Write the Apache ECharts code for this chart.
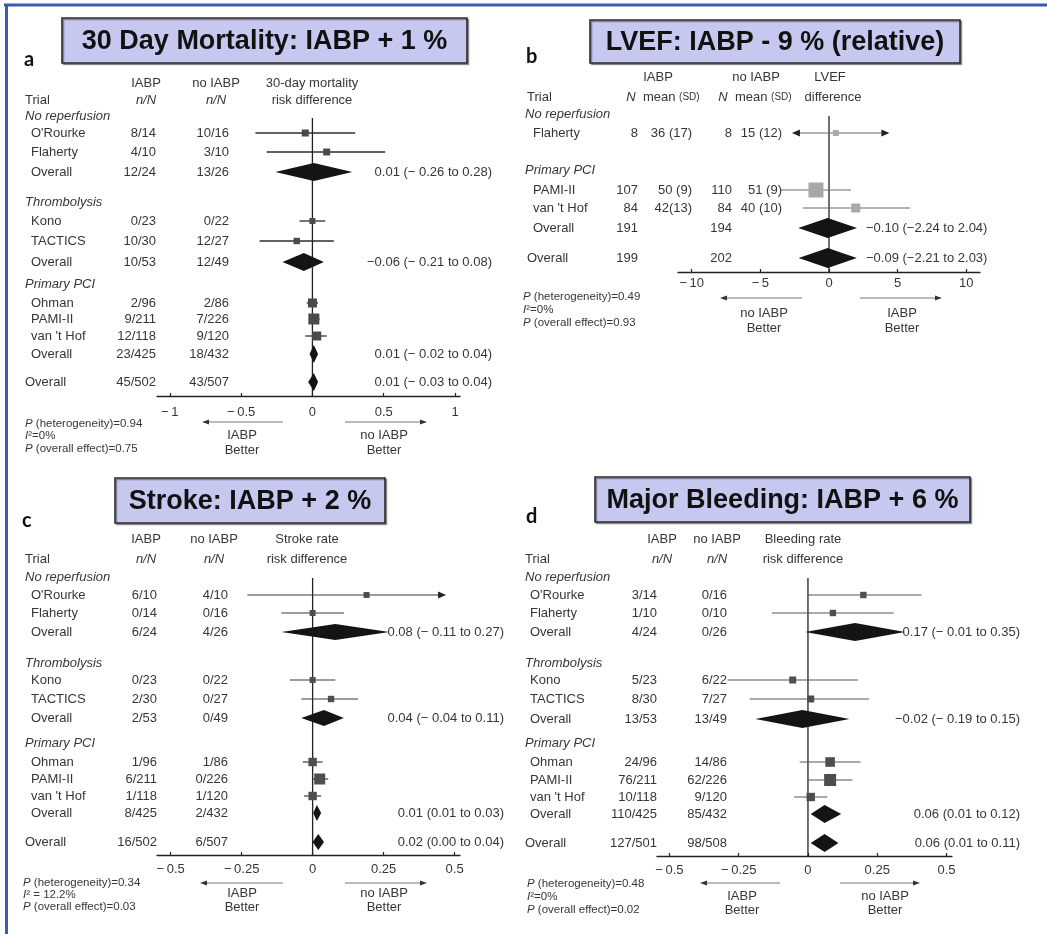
<!DOCTYPE html>
<html><head><meta charset="utf-8">
<script src="https://cdn.jsdelivr.net/npm/echarts@6/dist/echarts.min.js"></script>
<style>html,body{margin:0;padding:0;background:#fff}#c{width:1047px;height:934px}</style>
</head><body><div id="c"></div>
<script>
// ================= DATA =================
// Panel a: 30-day mortality, risk difference
const aTitle = "30 Day Mortality: IABP + 1 %";
const aHeader1 = ["IABP", "no IABP", "30-day mortality"];
const aHeader2 = ["Trial", "n/N", "n/N", "risk difference"];
const aRows  = ["No reperfusion","O'Rourke","Flaherty","Overall","Thrombolysis","Kono","TACTICS","Overall","Primary PCI","Ohman","PAMI-II","van 't Hof","Overall","Overall"];
const aKinds = ["group","trial","trial","sub","group","trial","trial","sub","group","trial","trial","trial","sub","total"];
const aIabp   = ["","8/14","4/10","12/24","","0/23","10/30","10/53","","2/96","9/211","12/118","23/425","45/502"];
const aNoIabp = ["","10/16","3/10","13/26","","0/22","12/27","12/49","","2/86","7/226","9/120","18/432","43/507"];
const aEst = [null,-0.05,0.10,0.01,null,0.00,-0.11,-0.06,null,0.00,0.01,0.03,0.01,0.01];
const aLo  = [null,-0.40,-0.32,-0.26,null,-0.09,-0.37,-0.21,null,-0.04,-0.02,-0.05,-0.02,-0.03];
const aHi  = [null,0.30,0.51,0.28,null,0.09,0.15,0.08,null,0.04,0.05,0.10,0.04,0.04];
const aWeight = [null,15,15,null,null,10,12,null,null,25,35,25,null,null];
const aEstText = ["","","","0.01 (− 0.26 to 0.28)","","","","−0.06 (− 0.21 to 0.08)","","","","","0.01 (− 0.02 to 0.04)","0.01 (− 0.03 to 0.04)"];
const aTicks = [-1,-0.5,0,0.5,1];
const aStats = ["{i|P} (heterogeneity)=0.94","{i|I}²=0%","{i|P} (overall effect)=0.75"];
const aBetter = [["IABP","Better"],["no IABP","Better"]];

// Panel b: LVEF, mean difference
const bTitle = "LVEF: IABP - 9 % (relative)";
const bHeader1 = ["IABP", "no IABP", "LVEF"];
const bHeader2 = ["Trial", "{i|N}  mean {s|(SD)}", "{i|N}  mean {s|(SD)}", "difference"];
const bRows  = ["No reperfusion","Flaherty","Primary PCI","PAMI-II","van 't Hof","Overall","Overall"];
const bKinds = ["group","trial","group","trial","trial","sub","total"];
const bIabpN    = ["","8","","107","84","191","199"];
const bIabpMean = ["","36 (17)","","50 (9)","42(13)","",""];
const bNoN      = ["","8","","110","84","194","202"];
const bNoMean   = ["","15 (12)","","51 (9)","40 (10)","",""];
const bEst = [null,0.5,null,-0.95,1.95,-0.10,-0.09];
const bLo  = [null,-2.7,null,-3.5,-1.9,-2.24,-2.21];
const bHi  = [null,4.4,null,1.6,5.9,2.04,2.03];
const bWeight = [null,10,null,55,25,null,null];
const bArrowL = [false,true,false,false,false,false,false];
const bArrowR = [false,true,false,false,false,false,false];
const bEstText = ["","","","","","−0.10 (−2.24 to 2.04)","−0.09 (−2.21 to 2.03)"];
const bTicks = [-10,-5,0,5,10];
const bStats = ["{i|P} (heterogeneity)=0.49","{i|I}²=0%","{i|P} (overall effect)=0.93"];
const bBetter = [["no IABP","Better"],["IABP","Better"]];

// Panel c: stroke rate, risk difference
const cTitle = "Stroke: IABP + 2 %";
const cHeader1 = ["IABP", "no IABP", "Stroke rate"];
const cHeader2 = ["Trial", "n/N", "n/N", "risk difference"];
const cRows  = aRows.slice();
const cKinds = aKinds.slice();
const cIabp   = ["","6/10","0/14","6/24","","0/23","2/30","2/53","","1/96","6/211","1/118","8/425","16/502"];
const cNoIabp = ["","4/10","0/16","4/26","","0/22","0/27","0/49","","1/86","0/226","1/120","2/432","6/507"];
const cEst = [null,0.19,0.00,0.08,null,0.00,0.065,0.04,null,0.00,0.025,0.00,0.015,0.02];
const cLo  = [null,-0.23,-0.11,-0.11,null,-0.08,-0.04,-0.04,null,-0.035,0.00,-0.03,0.002,0.00];
const cHi  = [null,0.47,0.11,0.27,null,0.08,0.16,0.11,null,0.035,0.055,0.03,0.03,0.04];
const cWeight = [null,10,10,null,null,10,12,null,null,22,35,22,null,null];
const cArrowR = [false,true,false,false,false,false,false,false,false,false,false,false,false,false];
const cEstText = ["","","","0.08 (− 0.11 to 0.27)","","","","0.04 (− 0.04 to 0.11)","","","","","0.01 (0.01 to 0.03)","0.02 (0.00 to 0.04)"];
const cTicks = [-0.5,-0.25,0,0.25,0.5];
const cStats = ["{i|P} (heterogeneity)=0.34","{i|I}² = 12.2%","{i|P} (overall effect)=0.03"];
const cBetter = [["IABP","Better"],["no IABP","Better"]];

// Panel d: bleeding rate, risk difference
const dTitle = "Major Bleeding: IABP + 6 %";
const dHeader1 = ["IABP", "no IABP", "Bleeding rate"];
const dHeader2 = ["Trial", "n/N", "n/N", "risk difference"];
const dRows  = aRows.slice();
const dKinds = aKinds.slice();
const dIabp   = ["","3/14","1/10","4/24","","5/23","8/30","13/53","","24/96","76/211","10/118","110/425","127/501"];
const dNoIabp = ["","0/16","0/10","0/26","","6/22","7/27","13/49","","14/86","62/226","9/120","85/432","98/508"];
const dEst = [null,0.20,0.09,0.17,null,-0.055,0.01,-0.02,null,0.08,0.08,0.01,0.06,0.06];
const dLo  = [null,0.00,-0.13,-0.01,null,-0.29,-0.21,-0.19,null,-0.03,0.00,-0.05,0.01,0.01];
const dHi  = [null,0.41,0.31,0.35,null,0.18,0.22,0.15,null,0.19,0.16,0.07,0.12,0.11];
const dWeight = [null,12,12,null,null,15,15,null,null,28,40,22,null,null];
const dEstText = ["","","","0.17 (− 0.01 to 0.35)","","","","−0.02 (− 0.19 to 0.15)","","","","","0.06 (0.01 to 0.12)","0.06 (0.01 to 0.11)"];
const dTicks = [-0.5,-0.25,0,0.25,0.5];
const dStats = ["{i|P} (heterogeneity)=0.48","{i|I}²=0%","{i|P} (overall effect)=0.02"];
const dBetter = [["IABP","Better"],["no IABP","Better"]];

// ================= LAYOUT (positions / styles) =================
const FF = '"Liberation Sans", Arial, Helvetica, sans-serif';
const TXT = '#363636';
const FS = 13;

const LAYOUT = {
  a: { rowY:[116,133,152,172,202,221,241,262,284,303,319,336,354,382], hdrY:[83,100],
       nameX:{group:25,trial:31,sub:31,total:25}, colRight:[156,229], hdrX:[146,216,312],
       estX:492, estAlign:'right', statsX:25, statsY:[424,436,449],
       arrowY:422, arrowL:[283,202], arrowR:[345,427], lblX:[242,384], lblY:[435,450],
       plot:{left:157,width:303,top:70,axisY:396,min:-1.09,max:1.035,zeroTop:118,labelMargin:10},
       diamondH:9, title:{x:62,y:18,w:405,h:45}, letter:{x:24,y:60,t:'a'},
       ci:{color:'#2e2e2e',width:1.3}, sq:'#4a4a4a' },
  b: { rowY:[114,133,170,190,208,228,258], hdrY:[77,97],
       nameX:{group:525,trial:533,sub:533,total:527},
       hdrX:[658,756,830], hdr2X:[663,755,833],
       nRight:[638,732], meanRight:[692,782],
       estX:866, estAlign:'left', statsX:523, statsY:[297,310,323],
       arrowY:298, arrowL:[802,720], arrowR:[860,942], lblX:[764,902], lblY:[313,328],
       plot:{left:678,width:302,top:60,axisY:272,min:-11,max:11,zeroTop:116,labelMargin:5},
       diamondH:10, title:{x:590,y:20,w:370,h:43}, letter:{x:526,y:57,t:'b'},
       ci:{color:'#6a6a6a',width:1.2}, sq:'#a8a8a8' },
  c: { rowY:[577,595,613,632,663,680,699,718,743,762,779,796,813,842], hdrY:[539,559],
       nameX:{group:25,trial:31,sub:31,total:25}, colRight:[157,228], hdrX:[146,214,307],
       estX:504, estAlign:'right', statsX:23, statsY:[883,895,907],
       arrowY:883, arrowL:[283,200], arrowR:[345,427], lblX:[242,384], lblY:[893,907],
       plot:{left:157,width:303,top:530,axisY:855,min:-0.548,max:0.519,zeroTop:578,labelMargin:8},
       diamondH:8, title:{x:115,y:478,w:270,h:45}, letter:{x:22,y:521,t:'c'},
       ci:{color:'#3a3a3a',width:1.2}, sq:'#4e4e4e' },
  d: { rowY:[577,595,613,632,663,680,699,719,743,762,780,797,814,843], hdrY:[539,559],
       nameX:{group:525,trial:530,sub:530,total:525}, colRight:[657,727], hdrX:[662,717,803],
       estX:1020, estAlign:'right', statsX:527, statsY:[884,897,910],
       arrowY:883, arrowL:[780,700], arrowR:[840,920], lblX:[742,885], lblY:[896,910],
       plot:{left:657,width:295,top:530,axisY:856,min:-0.545,max:0.52,zeroTop:578,labelMargin:8},
       diamondH:9, title:{x:595,y:477,w:375,h:45}, letter:{x:526,y:517,t:'d'},
       ci:{color:'#555555',width:1.1}, sq:'#4e4e4e' }
};

const panels = [
  {id:'a', title:aTitle, h1:aHeader1, h2:aHeader2, rows:aRows, kinds:aKinds, cols:[aIabp,aNoIabp], est:aEst, lo:aLo, hi:aHi, w:aWeight, estText:aEstText, ticks:aTicks, stats:aStats, better:aBetter, arrowL:[], arrowR:[]},
  {id:'b', title:bTitle, h1:bHeader1, h2:bHeader2, rows:bRows, kinds:bKinds, est:bEst, lo:bLo, hi:bHi, w:bWeight, estText:bEstText, ticks:bTicks, stats:bStats, better:bBetter, arrowL:bArrowL, arrowR:bArrowR},
  {id:'c', title:cTitle, h1:cHeader1, h2:cHeader2, rows:cRows, kinds:cKinds, cols:[cIabp,cNoIabp], est:cEst, lo:cLo, hi:cHi, w:cWeight, estText:cEstText, ticks:cTicks, stats:cStats, better:cBetter, arrowL:[], arrowR:cArrowR},
  {id:'d', title:dTitle, h1:dHeader1, h2:dHeader2, rows:dRows, kinds:dKinds, cols:[dIabp,dNoIabp], est:dEst, lo:dLo, hi:dHi, w:dWeight, estText:dEstText, ticks:dTicks, stats:dStats, better:dBetter, arrowL:[], arrowR:[]}
];

// ================= BUILD =================
const RICH = {
  i:{fontStyle:'italic', fontSize:FS, fontFamily:FF, fill:TXT},
  s:{fontSize:10, fontFamily:FF, fill:TXT}
};
const RICH_SM = {
  i:{fontStyle:'italic', fontSize:11.5, fontFamily:FF, fill:TXT}
};
function T(x, y, text, o) {
  o = o || {};
  return { type:'text', x:x, y:y, silent:true, z:10,
    style:{ text:text, fill:o.fill||TXT, fontSize:o.size||FS, fontFamily:o.ff||FF,
      fontStyle:o.italic?'italic':'normal', fontWeight:o.bold?'bold':'normal',
      align:o.align||'left', verticalAlign:'middle', rich:o.rich } };
}
function arrow(x1, x2, y) {
  const dir = x2 > x1 ? 1 : -1;
  return [
    {type:'line', silent:true, z:10, shape:{x1:x1,y1:y,x2:x2-dir*5,y2:y}, style:{stroke:'#777',lineWidth:1}},
    {type:'polygon', silent:true, z:10, shape:{points:[[x2,y],[x2-dir*7,y-2.6],[x2-dir*7,y+2.6]]}, style:{fill:'#333'}}
  ];
}
function fmtTick(v) {
  const s = String(Math.abs(v));
  return v < 0 ? '−\u2009' + s : s;
}
function sizeOf(w) { return 4 + 0.2 * w; }

const graphic = [];
// outer blue frame (top and left)
graphic.push({type:'line', silent:true, shape:{x1:4,y1:5,x2:1047,y2:5}, style:{stroke:'#3a5ab4',lineWidth:3}});
graphic.push({type:'line', silent:true, shape:{x1:6.5,y1:4,x2:6.5,y2:934}, style:{stroke:'#3a5ab4',lineWidth:3}});

const grids = [], xAxes = [], yAxes = [], series = [];

panels.forEach(function (P, gi) {
  const L = LAYOUT[P.id];
  // title box + letter
  graphic.push({type:'rect', silent:true, z:5, shape:{x:L.title.x,y:L.title.y,width:L.title.w,height:L.title.h},
    style:{fill:'#c6c8ef', stroke:'#2b2b2b', lineWidth:1.6, shadowColor:'rgba(0,0,0,0.35)', shadowOffsetX:1.5, shadowOffsetY:1.5}});
  graphic.push(T(L.title.x + L.title.w/2, L.title.y + L.title.h/2 + 1, P.title, {size:27, bold:true, align:'center', fill:'#111'}));
  graphic.push(T(L.letter.x, L.letter.y, L.letter.t, {size:20, bold:true, ff:'Lato, "Open Sans", sans-serif', fill:'#111'}));

  // headers
  if (P.id === 'b') {
    P.h1.forEach(function (h, k) { graphic.push(T(L.hdrX[k], L.hdrY[0], h, {align:'center'})); });
    graphic.push(T(L.nameX.total, L.hdrY[1], P.h2[0]));
    for (let k = 1; k < 4; k++) graphic.push(T(L.hdr2X[k-1], L.hdrY[1], P.h2[k], {align:'center', rich:RICH}));
  } else {
    P.h1.forEach(function (h, k) { graphic.push(T(L.hdrX[k], L.hdrY[0], h, {align:'center'})); });
    graphic.push(T(L.nameX.total, L.hdrY[1], P.h2[0]));
    graphic.push(T(L.hdrX[0], L.hdrY[1], P.h2[1], {align:'center', italic:true}));
    graphic.push(T(L.hdrX[1], L.hdrY[1], P.h2[2], {align:'center', italic:true}));
    graphic.push(T(L.hdrX[2], L.hdrY[1], P.h2[3], {align:'center'}));
  }

  // table rows
  P.rows.forEach(function (name, k) {
    const kind = P.kinds[k], y = L.rowY[k];
    graphic.push(T(L.nameX[kind], y, name, {italic: kind === 'group'}));
    if (P.id === 'b') {
      if (bIabpN[k]) graphic.push(T(L.nRight[0], y, bIabpN[k], {align:'right'}));
      if (bIabpMean[k]) graphic.push(T(L.meanRight[0], y, bIabpMean[k], {align:'right'}));
      if (bNoN[k]) graphic.push(T(L.nRight[1], y, bNoN[k], {align:'right'}));
      if (bNoMean[k]) graphic.push(T(L.meanRight[1], y, bNoMean[k], {align:'right'}));
    } else {
      if (P.cols[0][k]) graphic.push(T(L.colRight[0], y, P.cols[0][k], {align:'right'}));
      if (P.cols[1][k]) graphic.push(T(L.colRight[1], y, P.cols[1][k], {align:'right'}));
    }
    if (P.estText[k]) graphic.push(T(L.estX, y, P.estText[k], {align:L.estAlign}));
  });

  // stats
  P.stats.forEach(function (s, k) {
    graphic.push(T(L.statsX, L.statsY[k], s, {size:11.5, rich:RICH_SM}));
  });
  // direction arrows + labels
  arrow(L.arrowL[0], L.arrowL[1], L.arrowY).forEach(function (g) { graphic.push(g); });
  arrow(L.arrowR[0], L.arrowR[1], L.arrowY).forEach(function (g) { graphic.push(g); });
  P.better.forEach(function (pair, side) {
    graphic.push(T(L.lblX[side], L.lblY[0], pair[0], {align:'center'}));
    graphic.push(T(L.lblX[side], L.lblY[1], pair[1], {align:'center'}));
  });

  // plot grid
  const pl = L.plot;
  grids.push({left:pl.left, width:pl.width, top:pl.top, height:pl.axisY - pl.top, containLabel:false});
  xAxes.push({gridIndex:gi, type:'value', min:pl.min, max:pl.max, position:'bottom',
    axisLine:{show:true, onZero:false, lineStyle:{color:'#222', width:1.3}},
    axisTick:{show:true, inside:true, length:3, customValues:P.ticks, lineStyle:{color:'#222', width:1.2}},
    axisLabel:{show:true, customValues:P.ticks, formatter:fmtTick, fontSize:FS, fontFamily:FF, color:TXT, margin:pl.labelMargin},
    splitLine:{show:false}});
  yAxes.push({gridIndex:gi, type:'value', min:pl.top, max:pl.axisY, inverse:true, show:false});

  series.push({type:'line', xAxisIndex:gi, yAxisIndex:gi, silent:true, symbol:'none', z:2,
    data:[[0, pl.zeroTop],[0, pl.axisY]], lineStyle:{color:'#222', width:1.3}});

  series.push({type:'custom', xAxisIndex:gi, yAxisIndex:gi, silent:true, z:3, clip:false,
    data:P.est.map(function (e, k) { return [e == null ? 0 : e, L.rowY[k]]; }),
    encode:{x:0, y:1},
    renderItem:function (params, api) {
      const k = params.dataIndex;
      const e = P.est[k];
      if (e == null) return null;
      const y = L.rowY[k];
      const pLo = api.coord([P.lo[k], y]), pE = api.coord([e, y]), pHi = api.coord([P.hi[k], y]);
      const kind = P.kinds[k];
      const ch = [];
      if (kind === 'sub' || kind === 'total') {
        const h = L.diamondH;
        ch.push({type:'polygon', shape:{points:[[pLo[0],pE[1]],[pE[0],pE[1]-h],[pHi[0],pE[1]],[pE[0],pE[1]+h]]}, style:{fill:'#141414'}});
      } else {
        const aL = P.arrowL[k], aR = P.arrowR[k];
        ch.push({type:'line', shape:{x1:pLo[0] + (aL?5:0), y1:pE[1], x2:pHi[0] - (aR?5:0), y2:pE[1]}, style:{stroke:L.ci.color, lineWidth:L.ci.width}});
        if (aR) ch.push({type:'polygon', shape:{points:[[pHi[0],pE[1]],[pHi[0]-8,pE[1]-3.5],[pHi[0]-8,pE[1]+3.5]]}, style:{fill:'#222'}});
        if (aL) ch.push({type:'polygon', shape:{points:[[pLo[0],pE[1]],[pLo[0]+8,pE[1]-3.5],[pLo[0]+8,pE[1]+3.5]]}, style:{fill:'#222'}});
        const s = sizeOf(P.w[k]);
        ch.push({type:'rect', shape:{x:pE[0]-s/2, y:pE[1]-s/2, width:s, height:s}, style:{fill:L.sq}});
      }
      return {type:'group', children:ch};
    }});
});

const chart = echarts.init(document.getElementById('c'), null, {renderer:'canvas', width:1047, height:934});
chart.setOption({
  backgroundColor:'#ffffff',
  animation:false,
  grid:grids, xAxis:xAxes, yAxis:yAxes, series:series,
  graphic:{elements:graphic}
});
</script>
</body></html>
